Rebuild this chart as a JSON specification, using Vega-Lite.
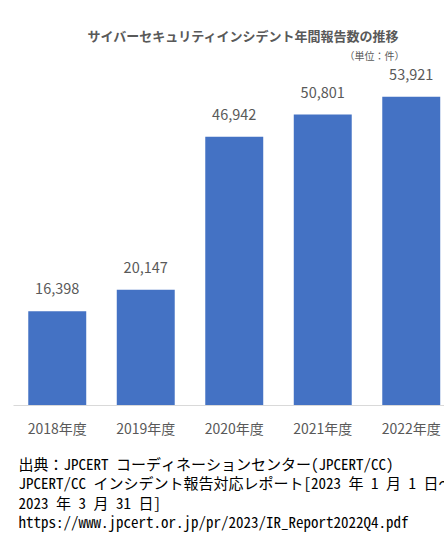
{
  "$schema": "https://vega.github.io/schema/vega-lite/v6.json",
  "autosize": "none",
  "width": 431,
  "height": 343,
  "padding": {"left": 13, "top": 62, "right": 0, "bottom": 128},
  "background": "white",
  "title": {
    "text": "サイバーセキュリティインシデント年間報告数の推移",
    "font": "Noto Sans CJK JP",
    "fontSize": 13,
    "fontWeight": "bold",
    "color": "#595959",
    "frame": "group",
    "anchor": "middle",
    "dx": 14.5,
    "offset": 7
  },
  "data": {
    "values": [
      {"year": "2018年度", "count": 16398},
      {"year": "2019年度", "count": 20147},
      {"year": "2020年度", "count": 46942},
      {"year": "2021年度", "count": 50801},
      {"year": "2022年度", "count": 53921}
    ]
  },
  "encoding": {
    "x": {
      "field": "year",
      "type": "nominal",
      "sort": null,
      "scale": {"range": [0, 442.5], "paddingInner": 0.345, "paddingOuter": 0.1725},
      "axis": {
        "domainColor": "#d9d9d9",
        "ticks": false,
        "labelAngle": 0,
        "labelFont": "Noto Sans CJK JP",
        "labelFontSize": 14,
        "labelColor": "#595959",
        "labelPadding": 17,
        "title": [
          "出典：JPCERT コーディネーションセンター(JPCERT/CC)",
          "JPCERT/CC インシデント報告対応レポート[2023 年 1 月 1 日〜",
          "2023 年 3 月 31 日]",
          "https://www.jpcert.or.jp/pr/2023/IR_Report2022Q4.pdf"
        ],
        "titleFont": "Noto Sans Mono CJK JP, Noto Sans CJK JP",
        "titleFontSize": 15,
        "titleFontWeight": "normal",
        "titleColor": "#000000",
        "titleAnchor": "start",
        "titleAlign": "left",
        "titleBaseline": "top",
        "titleX": 5,
        "titleY": 52,
        "titleLineHeight": 19.5
      }
    },
    "y": {
      "field": "count",
      "type": "quantitative",
      "scale": {"domain": [0, 60000]},
      "axis": {
        "domain": false,
        "ticks": false,
        "labels": false,
        "grid": false,
        "title": "（単位：件）",
        "titleAngle": 0,
        "titleAlign": "right",
        "titleBaseline": "middle",
        "titleX": 391,
        "titleY": -6,
        "titleFont": "Noto Sans CJK JP",
        "titleFontSize": 10,
        "titleFontWeight": "normal",
        "titleColor": "#595959"
      }
    }
  },
  "layer": [
    {"mark": {"type": "bar", "color": "#4472C4"}},
    {
      "mark": {"type": "text", "baseline": "middle", "dy": -21, "font": "Noto Sans CJK JP", "fontSize": 14.5, "color": "#595959"},
      "encoding": {"text": {"field": "count", "type": "quantitative", "format": ","}}
    }
  ],
  "config": {"view": {"stroke": null}}
}
